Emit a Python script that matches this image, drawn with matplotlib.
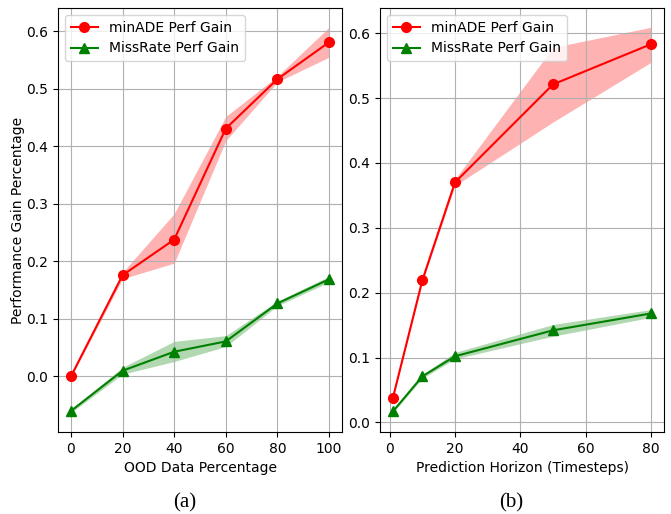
import numpy as np
from matplotlib import pyplot as plt

# (a) porcentaje de datos OOD
ood_pct = [0, 20, 40, 60, 80, 100]
ade_ood = [0.0, 0.176, 0.238, 0.431, 0.517, 0.581]
ade_ood_lo = [-0.002, 0.170, 0.197, 0.410, 0.512, 0.555]
ade_ood_hi = [0.002, 0.181, 0.283, 0.452, 0.522, 0.607]
mr_ood = [-0.060, 0.010, 0.043, 0.061, 0.127, 0.169]
mr_ood_lo = [-0.063, 0.004, 0.026, 0.052, 0.123, 0.164]
mr_ood_hi = [-0.057, 0.016, 0.061, 0.071, 0.131, 0.174]

# (b) horizonte de prediccion
horizon = [1, 10, 20, 50, 80]
ade_hor = [0.038, 0.219, 0.370, 0.521, 0.583]
ade_hor_lo = [0.036, 0.216, 0.365, 0.463, 0.555]
ade_hor_hi = [0.040, 0.222, 0.375, 0.578, 0.609]
mr_hor = [0.017, 0.071, 0.102, 0.142, 0.168]
mr_hor_lo = [0.015, 0.068, 0.098, 0.133, 0.162]
mr_hor_hi = [0.019, 0.074, 0.108, 0.151, 0.174]

fig = plt.figure(figsize=(6.71, 5.14), dpi=100)
ax1 = fig.add_axes([58/671, 82/514, 284/671, 424/514])
ax2 = fig.add_axes([380/671, 82/514, 284/671, 424/514])

def panel(ax, x, a, alo, ahi, m, mlo, mhi):
    ax.plot(x, a, 'r-o', lw=1.5, ms=7, label='minADE Perf Gain')
    ax.fill_between(x, alo, ahi, color='red', alpha=0.3, lw=0)
    ax.plot(x, m, 'g-^', lw=1.5, ms=7, label='MissRate Perf Gain')
    ax.fill_between(x, mlo, mhi, color='green', alpha=0.3, lw=0)
    ax.grid(True)
    ax.legend(loc='upper left')

panel(ax1, ood_pct, ade_ood, ade_ood_lo, ade_ood_hi, mr_ood, mr_ood_lo, mr_ood_hi)
ax1.set_xlabel('OOD Data Percentage')
ax1.set_ylabel('Performance Gain Percentage', labelpad=1)
ax1.set_xticks([0, 20, 40, 60, 80, 100])

panel(ax2, horizon, ade_hor, ade_hor_lo, ade_hor_hi, mr_hor, mr_hor_lo, mr_hor_hi)
ax2.set_xlabel('Prediction Horizon (Timesteps)')

fig.text(185/671, 1 - 503/514, '(a)', ha='center', va='center',
         fontsize=15, family='Liberation Serif')
fig.text(511/671, 1 - 503/514, '(b)', ha='center', va='center',
         fontsize=15, family='Liberation Serif')

plt.savefig('out.png', dpi=100)
